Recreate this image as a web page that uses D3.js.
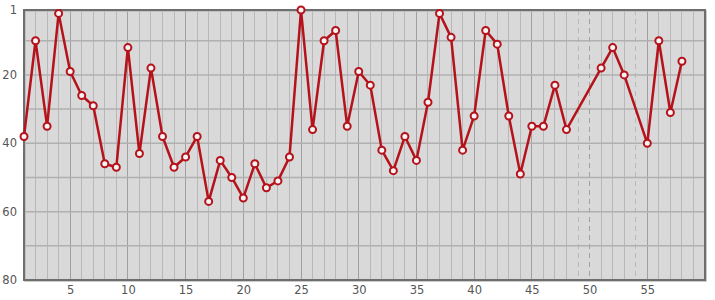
<!DOCTYPE html>
<html>
<head>
<meta charset="utf-8">
<script src="https://cdn.jsdelivr.net/npm/d3@7"></script>
<style>
  body { margin: 0; background: #fff; }
  text { font-family: "DejaVu Sans", sans-serif; }
</style>
</head>
<body>
<div id="container"></div>
<script>
// ranks per position, missing positions left out
let positions = [1, 2, 3, 4, 5, 6, 7, 8, 9, 10, 11, 12, 13, 14, 15, 16, 17, 18, 19, 20,
  21, 22, 23, 24, 25, 26, 27, 28, 29, 30, 31, 32, 33, 34, 35, 36, 37, 38, 39, 40,
  41, 42, 43, 44, 45, 46, 47, 48, 51, 52, 53, 55, 56, 57, 58];
let ranks = [38, 10, 35, 2, 19, 26, 29, 46, 47, 12, 43, 18, 38, 47, 44, 38, 57, 45, 50, 56,
  46, 53, 51, 44, 1, 36, 10, 7, 35, 19, 23, 42, 48, 38, 45, 28, 2, 9, 42, 32,
  7, 11, 32, 49, 35, 35, 23, 36, 18, 12, 20, 40, 10, 31, 16];
let missing = [49, 50, 54];
let xTicks = [5, 10, 15, 20, 25, 30, 35, 40, 45, 50, 55];
let yTicks = [1, 20, 40, 60, 80];
let yGrid = [10, 20, 30, 40, 50, 60, 70];

let w = 715;
let h = 300;
let padLeft = 24, padRight = 705, padTop = 10, padBottom = 280;

let data = positions.map((p, i) => ({ x: p, y: ranks[i] }));

let viz = d3.select("#container")
  .append("svg")
    .attr("width", w)
    .attr("height", h);

let xScale = d3.scaleLinear().domain([1, 60]).range([padLeft, padRight]);
let yScale = d3.scaleLinear().domain([1, 80]).range([padTop, padBottom]);

// plot background
viz.append("rect")
  .attr("x", padLeft).attr("y", padTop)
  .attr("width", padRight - padLeft).attr("height", padBottom - padTop)
  .attr("fill", "#d9d9d9");

// vertical grid, one per position
let grid = viz.append("g").attr("class", "grid");
grid.selectAll(".vline")
  .data(d3.range(2, 60))
  .enter().append("line")
    .attr("x1", d => xScale(d)).attr("x2", d => xScale(d))
    .attr("y1", padTop).attr("y2", padBottom)
    .attr("stroke", d => d % 5 == 0 ? "#a0a0a0" : "#b8b8b8")
    .attr("stroke-width", 1)
    .attr("stroke-dasharray", d => missing.includes(d) ? "5,4" : null)
    .attr("shape-rendering", "crispEdges");

grid.selectAll(".hline")
  .data(yGrid)
  .enter().append("line")
    .attr("x1", padLeft).attr("x2", padRight)
    .attr("y1", d => yScale(d)).attr("y2", d => yScale(d))
    .attr("stroke", "#b0b0b0")
    .attr("stroke-width", 1.5);

// frame
viz.append("rect")
  .attr("x", padLeft + 1).attr("y", padTop + 1)
  .attr("width", padRight - padLeft).attr("height", padBottom - padTop)
  .attr("fill", "none")
  .attr("stroke", "#bbb")
  .attr("stroke-width", 1.5);
viz.append("rect")
  .attr("x", padLeft).attr("y", padTop)
  .attr("width", padRight - padLeft).attr("height", padBottom - padTop)
  .attr("fill", "none")
  .attr("stroke", "#6e6e6e")
  .attr("stroke-width", 2);

// axes, drawn with d3 but without domain lines and ticks
let xAxis = d3.axisBottom(xScale).tickValues(xTicks).tickSize(0).tickPadding(6);
let xAxisGroup = viz.append("g")
  .attr("transform", "translate(0," + padBottom + ")")
  .call(xAxis);
let yAxis = d3.axisLeft(yScale).tickValues(yTicks).tickSize(0).tickPadding(7);
let yAxisGroup = viz.append("g")
  .attr("transform", "translate(" + padLeft + ",0)")
  .call(yAxis);
[xAxisGroup, yAxisGroup].forEach(g => {
  g.select(".domain").remove();
  g.selectAll("text")
    .attr("fill", "#555")
    .style("font-size", "11.5px")
    .style("font-family", "'DejaVu Sans', sans-serif");
});

// the rank line
let lineMaker = d3.line().x(d => xScale(d.x)).y(d => yScale(d.y));
viz.append("path")
  .datum(data)
  .attr("fill", "none")
  .attr("stroke", "#b5121b")
  .attr("stroke-width", 2.5)
  .attr("stroke-linejoin", "round")
  .attr("d", lineMaker);

viz.selectAll(".dot")
  .data(data)
  .enter().append("circle")
    .attr("class", "dot")
    .attr("cx", d => xScale(d.x))
    .attr("cy", d => yScale(d.y))
    .attr("r", 3.5)
    .attr("fill", "#f4f4f4")
    .attr("stroke", "#b5121b")
    .attr("stroke-width", 2);
</script>
</body>
</html>
